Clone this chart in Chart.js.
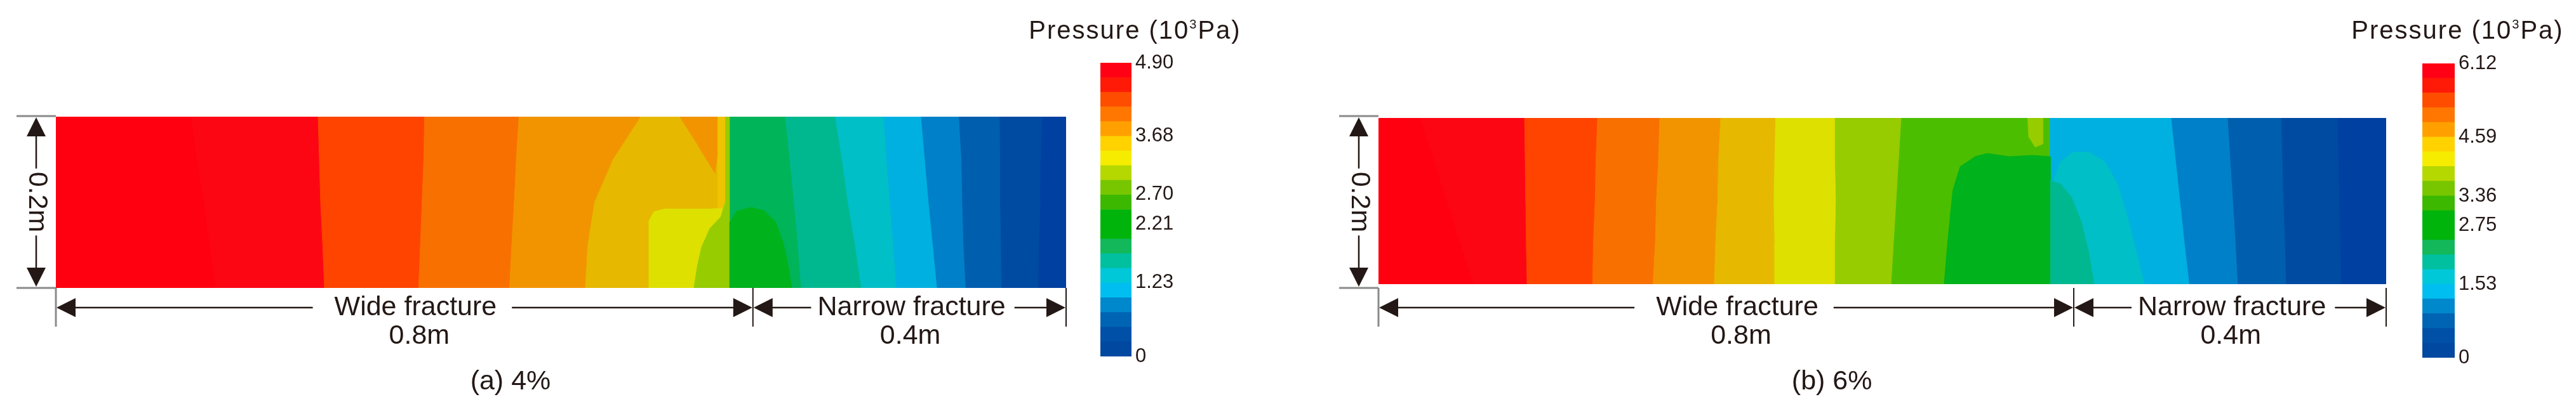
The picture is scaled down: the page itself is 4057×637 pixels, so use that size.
<!DOCTYPE html>
<html>
<head>
<meta charset="utf-8">
<script src="https://cdn.jsdelivr.net/npm/chart.js@4.4.1/dist/chart.umd.min.js"></script>
<style>
  html, body { margin: 0; padding: 0; background: #fff; }
  body { width: 4057px; height: 637px; position: relative; overflow: hidden; }
  canvas { position: absolute; top: 0; }
</style>
</head>
<body>
<canvas id="fieldA" width="1720" height="637" style="left:0px"></canvas>
<canvas id="barA" width="420" height="637" style="left:1600px"></canvas>
<canvas id="fieldB" width="1720" height="637" style="left:2083px"></canvas>
<canvas id="barB" width="375" height="637" style="left:3682px"></canvas>
<script>
// heights (m) at which each contour line was read, top to bottom
const yLevels = [0.2, 0.15, 0.1, 0.05, 0];

// (a) 4% - x (m) of each contour line at yLevels, left to right
const linesA = [
    [0.161, 0.168, 0.176, 0.183, 0.190],
    [0.3115, 0.313, 0.3145, 0.317, 0.319],
    [0.438, 0.437, 0.435, 0.433, 0.431],
    [0.550, 0.547, 0.5445, 0.5415, 0.539],
    [0.695, 0.662, 0.640, 0.632, 0.629],
    [0.8, 0.8, 0.8, 0.8, 0.8],
    [0.8666, 0.872, 0.877, 0.8817, 0.8855],
    [0.926, 0.934, 0.941, 0.9495, 0.957],
    [0.9835, 0.987, 0.991, 0.995, 0.9986],
    [1.028, 1.0325, 1.037, 1.042, 1.047],
    [1.073, 1.076, 1.077, 1.0785, 1.081],
    [1.1215, 1.122, 1.122, 1.123, 1.1235],
    [1.172, 1.1705, 1.170, 1.168, 1.1675]
];
// colour left of the first line, then right of every line
const bandsA = ['#ff0010', '#fd0614', '#ff4400', '#f87000', '#f29400', '#e6b800', '#00b45a',
    '#00b890', '#00bfc6', '#00b0e0', '#0080c8', '#005eae', '#004ba2', '#0040a0'];
// closed pockets that do not follow the bands
const islandsA = [
    { color: '#f29400', x: [0.7407, 0.786, 0.786, 0.783, 0.763], y: [0.2, 0.2, 0.1585, 0.134, 0.166] },
    { color: '#eec400', x: [0.786, 0.795, 0.795, 0.786], y: [0.2, 0.2, 0.0926, 0.0926] },
    { color: '#dee000', x: [0.780, 0.798, 0.798, 0.7045, 0.7045, 0.7105, 0.724],
      y: [0.0926, 0.0926, 0, 0, 0.0785, 0.0889, 0.0926] },
    { color: '#96cc00', x: [0.795, 0.8, 0.8, 0.758, 0.762, 0.767, 0.777, 0.790, 0.795],
      y: [0.2, 0.2, 0, 0, 0.0252, 0.0474, 0.0696, 0.083, 0.0993] },
    { color: '#00b21c', x: [0.8, 0.8085, 0.826, 0.841, 0.855, 0.864, 0.870, 0.874, 0.8],
      y: [0.0756, 0.0896, 0.094, 0.0904, 0.077, 0.0526, 0.0252, 0, 0] }
];

// (b) 6%
const linesB = [
    [0.0499, 0.0658, 0.0817, 0.0975, 0.1134],
    [0.174, 0.1747, 0.1754, 0.176, 0.177],
    [0.261, 0.259, 0.258, 0.256, 0.255],
    [0.335, 0.3335, 0.331, 0.3297, 0.327],
    [0.4076, 0.405, 0.404, 0.4015, 0.400],
    [0.473, 0.472, 0.471, 0.472, 0.472],
    [0.544, 0.544, 0.545, 0.544, 0.544],
    [0.623, 0.620, 0.617, 0.614, 0.611],
    [0.8, 0.8, 0.8, 0.8, 0.8],
    [0.9444, 0.9497, 0.955, 0.9603, 0.966],
    [1.0117, 1.0148, 1.018, 1.021, 1.0238],
    [1.0753, 1.0768, 1.078, 1.080, 1.0813],
    [1.1425, 1.1436, 1.1447, 1.1458, 1.147]
];
const bandsB = ['#ff0010', '#fd0614', '#ff4400', '#f87000', '#f29400', '#e6b800', '#dee000',
    '#96cc00', '#4cbe00', '#00b0e0', '#0080c8', '#005eae', '#004ba2', '#0040a0'];
const islandsB = [
    { color: '#00b21c', x: [0.710, 0.725, 0.7516, 0.778, 0.8, 0.8, 0.6737, 0.678, 0.684, 0.693],
      y: [0.1534, 0.1573, 0.1534, 0.155, 0.1534, 0, 0, 0.0519, 0.113, 0.142] },
    { color: '#96cc00', x: [0.7728, 0.791, 0.791, 0.782, 0.774], y: [0.2, 0.2, 0.1687, 0.165, 0.178] },
    { color: '#00bfc6', x: [0.8, 0.8023, 0.812, 0.827, 0.846, 0.865, 0.880, 0.8915, 0.903, 0.912, 0.8],
      y: [0.113, 0.1206, 0.1473, 0.1588, 0.1588, 0.1473, 0.1206, 0.0824, 0.0366, 0, 0] },
    { color: '#00b890', x: [0.8, 0.812, 0.825, 0.837, 0.846, 0.852, 0.8],
      y: [0.1244, 0.1206, 0.1053, 0.0748, 0.0366, 0, 0] }
];

// colour bars (10^3 Pa)
const ticksA = [0, 1.23, 2.21, 2.70, 3.68, 4.90];
const ticksB = [0, 1.53, 2.75, 3.36, 4.59, 6.12];
const barColors = ['#0048a0', '#0050a8', '#0064b4', '#0088cc', '#00bef0', '#00c8d8', '#00c0a0',
    '#12b85a', '#00b40c', '#00b40c', '#3cb800', '#78c600', '#b5d800', '#f5ec00', '#ffd200',
    '#ffa000', '#ff7700', '#ff4d00', '#ff1a08', '#ff0014']; // bottom to top

const INK = '#231815';
const GREY = '#8a8a8a';
const FONT = '"Liberation Sans", Arial, Helvetica, sans-serif';

Chart.defaults.font.family = FONT;

function seg(ctx, x1, y1, x2, y2) {
    ctx.beginPath();
    ctx.moveTo(x1, y1);
    ctx.lineTo(x2, y2);
    ctx.stroke();
}

function tri(ctx, x, y, dir) {
    const len = 30, half = 15;
    ctx.beginPath();
    ctx.moveTo(x, y);
    if (dir === 'left') { ctx.lineTo(x + len, y - half); ctx.lineTo(x + len, y + half); }
    if (dir === 'right') { ctx.lineTo(x - len, y - half); ctx.lineTo(x - len, y + half); }
    if (dir === 'up') { ctx.lineTo(x - half, y + len); ctx.lineTo(x + half, y + len); }
    if (dir === 'down') { ctx.lineTo(x - half, y - len); ctx.lineTo(x + half, y - len); }
    ctx.closePath();
    ctx.fill();
}

// dimension lines and captions round a field
const dimensions = {
    id: 'dimensions',
    afterDraw(chart, args, o) {
        const { ctx, chartArea: a } = chart;
        const w = a.right - a.left;
        const top = 183, bot = 454, yArrow = 485, yTick = 515, yLen = 530, yCap = 602;
        const xs = a.left + w * o.split;
        ctx.save();
        ctx.font = '43px ' + FONT;
        ctx.fillStyle = INK;
        ctx.textAlign = 'center';
        ctx.textBaseline = 'middle';

        // height 0.2 m
        ctx.strokeStyle = GREY;
        ctx.lineWidth = 3;
        seg(ctx, a.left - 62, top, a.left, top);
        seg(ctx, a.left - 62, bot, a.left, bot);
        const xv = a.left - 31, ym = (top + bot) / 2;
        const th = ctx.measureText('0.2m').width;
        ctx.strokeStyle = INK;
        ctx.lineWidth = 2.5;
        seg(ctx, xv, top + 30, xv, ym - th / 2 - 5);
        seg(ctx, xv, ym + th / 2 + 5, xv, bot - 30);
        tri(ctx, xv, top + 2, 'up');
        tri(ctx, xv, bot - 2, 'down');
        ctx.save();
        ctx.translate(xv + 1, ym);
        ctx.rotate(Math.PI / 2);
        ctx.fillText('0.2m', 0, 0);
        ctx.restore();

        // length ticks
        ctx.strokeStyle = GREY;
        ctx.lineWidth = 3;
        seg(ctx, a.left, bot, a.left, yTick);
        ctx.strokeStyle = INK;
        ctx.lineWidth = 2;
        seg(ctx, xs, bot, xs, yTick);
        seg(ctx, a.right, bot, a.right, yTick);

        // length arrows
        const wx = a.left + w * o.wideAt, nx = a.left + w * o.narrowAt;
        const ww = ctx.measureText('Wide fracture').width;
        const nw = ctx.measureText('Narrow fracture').width;
        ctx.lineWidth = 2.5;
        seg(ctx, a.left + 30, yArrow, wx - ww / 2 - 34, yArrow);
        seg(ctx, wx + ww / 2 + 24, yArrow, xs - 30, yArrow);
        seg(ctx, xs + 30, yArrow, nx - nw / 2 - 10, yArrow);
        seg(ctx, nx + nw / 2 + 14, yArrow, a.right - 30, yArrow);
        tri(ctx, a.left + 1, yArrow, 'left');
        tri(ctx, xs - 1, yArrow, 'right');
        tri(ctx, xs + 1, yArrow, 'left');
        tri(ctx, a.right - 1, yArrow, 'right');

        ctx.fillText('Wide fracture', wx, yArrow);
        ctx.fillText('0.8m', wx + 6, yLen);
        ctx.fillText('Narrow fracture', nx, yArrow);
        ctx.fillText('0.4m', nx - 2, yLen);
        ctx.fillText(o.caption, a.left + w * o.captionAt, yCap);
        ctx.restore();
    }
};

function fieldDatasets(lines, bands, islands) {
    const polys = [];
    polys.push({ pts: [[1.2, 0.2], [0, 0.2], [0, 0], [1.2, 0]], color: bands[0] });
    lines.forEach((xs, k) => {
        const pts = [[1.2, 0.2]];
        yLevels.forEach((y, i) => pts.push([xs[i], y]));
        pts.push([1.2, 0]);
        polys.push({ pts, color: bands[k + 1] });
    });
    islands.forEach(isl => polys.push({ pts: isl.x.map((x, i) => [x, isl.y[i]]), color: isl.color }));
    return polys.map((p, i) => ({
        data: p.pts.map(([x, y]) => ({ x, y })),
        showLine: true,
        fill: 'shape',
        tension: 0,
        backgroundColor: p.color,
        borderColor: p.color,
        borderWidth: 1,
        pointRadius: 0,
        clip: 0,
        order: -i
    }));
}

function fieldChart(id, lines, bands, islands, padding, caption) {
    return new Chart(document.getElementById(id), {
        type: 'scatter',
        data: { datasets: fieldDatasets(lines, bands, islands) },
        options: {
            responsive: false,
            animation: false,
            events: [],
            layout: { padding },
            scales: {
                x: { type: 'linear', min: 0, max: 1.2, display: false },
                y: { type: 'linear', min: 0, max: 0.2, display: false }
            },
            plugins: {
                legend: { display: false },
                tooltip: { enabled: false },
                dimensions: { split: 0.69, wideAt: 0.356, narrowAt: 0.847, captionAt: 0.45, caption }
            }
        },
        plugins: [dimensions]
    });
}

// "Pressure (10^3 Pa)" above a colour bar
const barTitle = {
    id: 'barTitle',
    afterDraw(chart) {
        const { ctx, chartArea: a } = chart;
        const cx = (a.left + a.right) / 2 + 30, base = 61;
        ctx.save();
        ctx.fillStyle = INK;
        ctx.textAlign = 'left';
        ctx.textBaseline = 'alphabetic';
        ctx.letterSpacing = '2px';
        ctx.font = '40px ' + FONT;
        const w1 = ctx.measureText('Pressure (10').width;
        const w3 = ctx.measureText('Pa)').width;
        ctx.font = '20px ' + FONT;
        const w2 = ctx.measureText('3').width;
        let x = cx - (w1 + w2 + w3) / 2;
        ctx.font = '40px ' + FONT;
        ctx.fillText('Pressure (10', x, base);
        ctx.font = '20px ' + FONT;
        ctx.fillText('3', x + w1, base - 16);
        ctx.font = '40px ' + FONT;
        ctx.fillText('Pa)', x + w1 + w2, base);
        ctx.restore();
    }
};

function colorBar(id, ticks, padding, axisWidth) {
    const max = ticks[ticks.length - 1];
    const n = barColors.length;
    return new Chart(document.getElementById(id), {
        type: 'bar',
        data: {
            labels: [''],
            datasets: barColors.map((c, i) => ({
                data: [[i * max / n, (i + 1) * max / n]],
                backgroundColor: c,
                borderWidth: 0,
                barPercentage: 1,
                categoryPercentage: 1,
                grouped: false
            }))
        },
        options: {
            responsive: false,
            animation: false,
            events: [],
            layout: { padding },
            scales: {
                x: { display: false },
                y: {
                    position: 'right',
                    min: 0,
                    max,
                    grid: { display: false, drawTicks: false },
                    border: { display: false },
                    afterBuildTicks: s => { s.ticks = ticks.map(v => ({ value: v })); },
                    afterFit: s => { s.width = axisWidth; },
                    ticks: {
                        autoSkip: false,
                        padding: 6,
                        color: INK,
                        font: { size: 31 },
                        callback: v => v === 0 ? '0' : v.toFixed(2)
                    }
                }
            },
            plugins: { legend: { display: false }, tooltip: { enabled: false } }
        },
        plugins: [barTitle]
    });
}

fieldChart('fieldA', linesA, bandsA, islandsA, { left: 88, top: 184, right: 41, bottom: 183 }, '(a) 4%');
fieldChart('fieldB', linesB, bandsB, islandsB, { left: 88, top: 186, right: 45, bottom: 189 }, '(b) 6%');
colorBar('barA', ticksA, { left: 133, top: 99, right: 0, bottom: 75 }, 238);
colorBar('barB', ticksB, { left: 133, top: 100, right: 0, bottom: 73 }, 191);
</script>
</body>
</html>
